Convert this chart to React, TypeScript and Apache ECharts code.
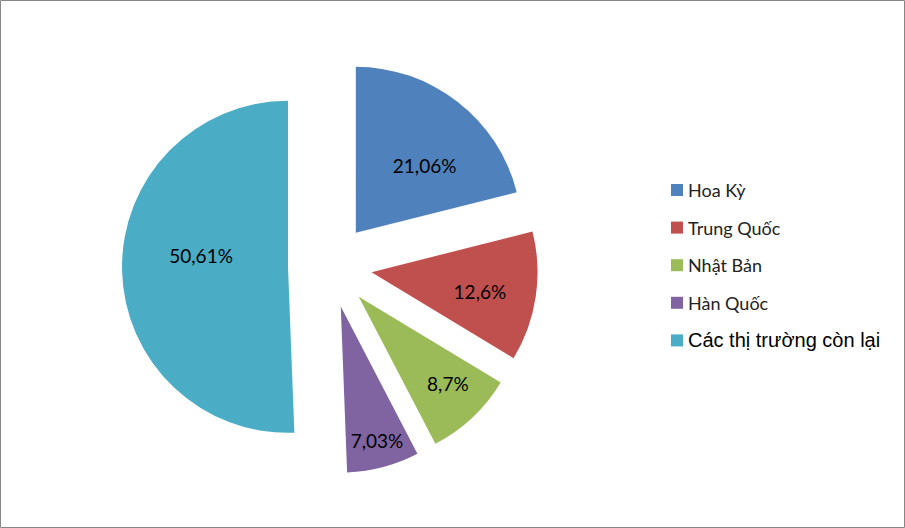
import React, { useEffect, useRef } from "react";
import * as echarts from "echarts";

const categories = ["Hoa Kỳ", "Trung Quốc", "Nhật Bản", "Hàn Quốc", "Các thị trường còn lại"];
const shares = [21.06, 12.6, 8.7, 7.03, 50.61];
const colors = ["#4F81BD", "#C0504D", "#9BBB59", "#8064A2", "#4BACC6"];

// layout constants
const CENTER = [330, 266];
const RADIUS = 166;
const EXPLODE = 42;
// label placement inside each exploded slice: [fraction of radius, angle in degrees clockwise from top]
const LABEL_POLAR = [
  [0.578, 45.8],
  [0.663, 100.1],
  [0.748, 134.1],
  [0.837, 164.9],
  [0.528, 277.3],
];

const fmt = (v: number) => String(v).replace(".", ",") + "%";

export default function App() {
  const ref = useRef<HTMLDivElement>(null);
  useEffect(() => {
    if (!ref.current) return;
    const chart = echarts.init(ref.current, undefined, { renderer: "svg" });
    const total = shares.reduce((a, b) => a + b, 0);
    const midAngles: number[] = [];
    let acc = 0;
    shares.forEach((v) => {
      midAngles.push(((acc + v / 2) / total) * 2 * Math.PI);
      acc += v;
    });
    chart.setOption({
      animation: false,
      graphic: [
        {
          type: "rect",
          shape: { x: 0.5, y: 0.5, width: 904, height: 527 },
          style: { fill: "none", stroke: "#868686", lineWidth: 1 },
          silent: true,
        },
      ],
      legend: {
        orient: "vertical",
        left: 666,
        top: 175,
        itemWidth: 12,
        itemHeight: 12,
        itemGap: 17.6,
        icon: "rect",
        selectedMode: false,
        textStyle: { fontFamily: "Lato", fontSize: 18, color: "#222", lineHeight: 20 },
        data: categories.map((name, i) =>
          i === categories.length - 1
            ? {
                name,
                itemStyle: { color: colors[i] },
                textStyle: {
                  fontFamily: "Liberation Sans",
                  fontSize: 20,
                  color: "#000",
                  lineHeight: 20,
                },
              }
            : { name, itemStyle: { color: colors[i] } }
        ),
      },
      series: [
        {
          type: "pie",
          center: CENTER,
          radius: [0, RADIUS],
          startAngle: 90,
          clockwise: true,
          selectedMode: "multiple",
          selectedOffset: EXPLODE,
          emphasis: { disabled: true },
          label: { show: false },
          labelLine: { show: false },
          data: categories.map((name, i) => ({
            name,
            value: shares[i],
            selected: true,
            itemStyle: { color: colors[i], borderWidth: 0 },
            select: { itemStyle: { color: colors[i], borderWidth: 0 } },
          })),
        },
        {
          type: "pie",
          center: CENTER,
          radius: [0, RADIUS],
          startAngle: 90,
          clockwise: true,
          selectedMode: false,
          silent: true,
          emphasis: { disabled: true },
          z: 3,
          itemStyle: { color: "rgba(0,0,0,0)", borderWidth: 0 },
          label: {
            show: true,
            position: "inside",
            fontFamily: "Lato",
            fontSize: 19,
            color: "#000",
            formatter: (p: any) => fmt(p.value),
          },
          labelLine: { show: false },
          labelLayout: (params: any) => {
            const i = params.dataIndex;
            const m = midAngles[i];
            const cx = CENTER[0] + EXPLODE * Math.sin(m);
            const cy = CENTER[1] - EXPLODE * Math.cos(m);
            const [f, aDeg] = LABEL_POLAR[i];
            const a = (aDeg * Math.PI) / 180;
            return {
              x: cx + f * RADIUS * Math.sin(a),
              y: cy - f * RADIUS * Math.cos(a),
              align: "center",
              verticalAlign: "middle",
            };
          },
          data: categories.map((name, i) => ({ name, value: shares[i] })),
        },
      ],
    });
    return () => chart.dispose();
  }, []);
  return (
    <div
      ref={ref}
      style={{ position: "fixed", left: 0, top: 0, width: 905, height: 528, background: "#fff" }}
    />
  );
}
